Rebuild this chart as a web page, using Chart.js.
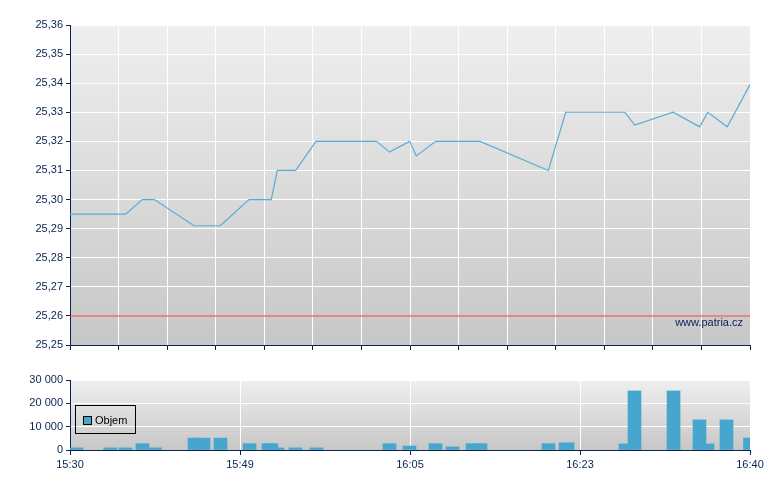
<!DOCTYPE html>
<html><head><meta charset="utf-8">
<script src="https://cdn.jsdelivr.net/npm/chart.js@4/dist/chart.umd.min.js"></script>
<style>
html,body{margin:0;padding:0;background:#fff;}
#wrap{position:relative;width:780px;height:490px;}
#c1wrap{position:absolute;left:0;top:0;width:780px;height:360px;}
#c2wrap{position:absolute;left:0;top:370px;width:780px;height:120px;}
</style></head><body>
<div id="wrap"><div id="c1wrap"><canvas id="c1"></canvas></div><div id="c2wrap"><canvas id="c2"></canvas></div></div>
<script>
// ---- data (times are minutes after 15:30) ----
const priceTimes = [0, 5.73, 7.44, 8.68, 12.77, 15.47, 18.43, 20.72, 21.34, 23.23, 25.32, 31.57, 32.87, 34.97, 35.65, 37.65, 42.21, 49.24, 51.03, 57.13, 58.13, 62.08, 64.82, 65.65, 67.66, 70];
const prices     = [25.295, 25.295, 25.30, 25.30, 25.291, 25.291, 25.30, 25.30, 25.31, 25.31, 25.32, 25.32, 25.3163, 25.32, 25.315, 25.32, 25.32, 25.31, 25.33, 25.33, 25.3256, 25.33, 25.325, 25.33, 25.325, 25.3395];
const refLevel = 25.26;
const priceMin = 25.25, priceMax = 25.36, priceStep = 0.01;

const volTimes = [0.65, 4.15, 5.71, 7.46, 8.75, 12.82, 13.74, 15.49, 18.48, 21.36, 20.43, 20.74, 23.21, 25.37, 32.89, 34.95, 37.63, 39.38, 41.43, 42.26, 49.26, 51.01, 51.22, 57.18, 58.11, 62.13, 65.63, 64.80, 67.58, 70.0];
const volumes  = [900, 900, 900, 2700, 900, 5100, 5100, 5100, 2700, 900, 2700, 2700, 900, 900, 2700, 1700, 2700, 1300, 2700, 2700, 2700, 3000, 3000, 2600, 25300, 25300, 2600, 12900, 12900, 5100];
const volMax = 30000, volStep = 10000;
const volTickPos = [0, 17.5, 35, 52.5, 70];
const volTickLabels = ['15:30', '15:49', '16:05', '16:23', '16:40'];
const timeMax = 70, timeStep = 5;
const seriesName = 'Objem';
const watermark = 'www.patria.cz';

// ---- styles ----
const NAVY = '#0b2352';
const FONT = {family: "'Liberation Sans', Arial, sans-serif", size: 11};
const LINE_COLOR = '#58add6';
const BAR_COLOR = '#47a6cd';

const bgPlugin = {
  id: 'bg',
  beforeDraw(chart) {
    const {ctx, chartArea: a} = chart;
    const g = ctx.createLinearGradient(0, a.top, 0, a.bottom);
    g.addColorStop(0, '#efefef');
    g.addColorStop(1, '#c7c7c7');
    ctx.save();
    ctx.fillStyle = g;
    ctx.fillRect(a.left, a.top, a.right - a.left, a.bottom - a.top);
    ctx.restore();
  }
};

const markPlugin = {
  id: 'mark',
  afterDatasetsDraw(chart) {
    const {ctx, chartArea: a} = chart;
    ctx.save();
    ctx.font = "11px 'Liberation Sans', Arial, sans-serif";
    ctx.fillStyle = NAVY;
    ctx.textAlign = 'right';
    ctx.textBaseline = 'middle';
    ctx.fillText(watermark, a.right - 7, a.bottom - 22);
    ctx.restore();
  }
};

const legendPlugin = {
  id: 'boxLegend',
  afterDraw(chart) {
    const {ctx, chartArea: a} = chart;
    const x = a.left + 5, y = a.top + 25;
    ctx.save();
    ctx.strokeStyle = '#000';
    ctx.lineWidth = 1;
    ctx.strokeRect(x + 0.5, y + 0.5, 60, 28);
    ctx.fillStyle = BAR_COLOR;
    ctx.fillRect(x + 8.5, y + 11.5, 8, 8);
    ctx.strokeRect(x + 8.5, y + 11.5, 8, 8);
    ctx.font = "11px 'Liberation Sans', Arial, sans-serif";
    ctx.fillStyle = '#000';
    ctx.textAlign = 'left';
    ctx.textBaseline = 'middle';
    ctx.fillText(chart.data.datasets[0].label, x + 20, y + 15.5);
    ctx.restore();
  }
};

const fmtPrice = v => Number(v).toFixed(2).replace('.', ',');
const fmtVol = v => String(Math.round(v)).replace(/\B(?=(\d{3})+(?!\d))/g, ' ');

new Chart(document.getElementById('c1'), {
  type: 'line',
  data: {
    datasets: [
      {
        label: 'ref',
        data: [{x: 0, y: refLevel}, {x: timeMax, y: refLevel}],
        borderColor: '#e8312b', borderWidth: 1, pointRadius: 0, tension: 0
      },
      {
        label: 'Cena',
        data: priceTimes.map((t, i) => ({x: t, y: prices[i]})),
        borderColor: LINE_COLOR, borderWidth: 1.2, pointRadius: 0, tension: 0
      }
    ]
  },
  options: {
    responsive: true, maintainAspectRatio: false, animation: false,
    layout: {padding: {left: 0, right: 30, top: 25, bottom: 0}},
    plugins: {legend: {display: false}, tooltip: {enabled: false}},
    scales: {
      x: {
        type: 'linear', min: 0, max: timeMax,
        afterFit(s) { s.height = 15; },
        ticks: {stepSize: timeStep, autoSkip: false, callback: () => '', maxRotation: 0},
        grid: {color: '#ffffff', lineWidth: 1, tickColor: NAVY, tickLength: 5},
        border: {color: NAVY, width: 1}
      },
      y: {
        min: priceMin, max: priceMax,
        afterFit(s) { s.width = 70; },
        ticks: {stepSize: priceStep, callback: fmtPrice, color: NAVY, font: FONT, padding: 3, autoSkip: false},
        grid: {color: '#ffffff', lineWidth: 1, tickColor: NAVY, tickLength: 4},
        border: {color: NAVY, width: 1}
      }
    }
  },
  plugins: [bgPlugin, markPlugin]
});

new Chart(document.getElementById('c2'), {
  type: 'bar',
  data: {
    datasets: [{
      label: seriesName,
      data: volTimes.map((t, i) => ({x: t, y: volumes[i]})),
      backgroundColor: BAR_COLOR, borderWidth: 0, barThickness: 13, clip: 0
    }]
  },
  options: {
    responsive: true, maintainAspectRatio: false, animation: false,
    layout: {padding: {left: 0, right: 30, top: 10, bottom: 0}},
    plugins: {legend: {display: false}, tooltip: {enabled: false}},
    scales: {
      x: {
        type: 'linear', min: 0, max: timeMax, offset: false,
        afterFit(s) { s.height = 40; },
        afterBuildTicks(s) { s.ticks = volTickPos.map(v => ({value: v})); },
        ticks: {autoSkip: false, maxRotation: 0, color: NAVY, font: FONT, padding: 3,
                callback: (v, i) => volTickLabels[i]},
        grid: {color: '#ffffff', lineWidth: 1, tickColor: NAVY, tickLength: 5, offset: false},
        border: {color: NAVY, width: 1}
      },
      y: {
        min: 0, max: volMax,
        afterFit(s) { s.width = 70; },
        ticks: {stepSize: volStep, callback: fmtVol, color: NAVY, font: FONT, padding: 3},
        grid: {color: '#ffffff', lineWidth: 1, tickColor: NAVY, tickLength: 4},
        border: {color: NAVY, width: 1}
      }
    }
  },
  plugins: [bgPlugin, legendPlugin]
});
</script>
</body></html>
